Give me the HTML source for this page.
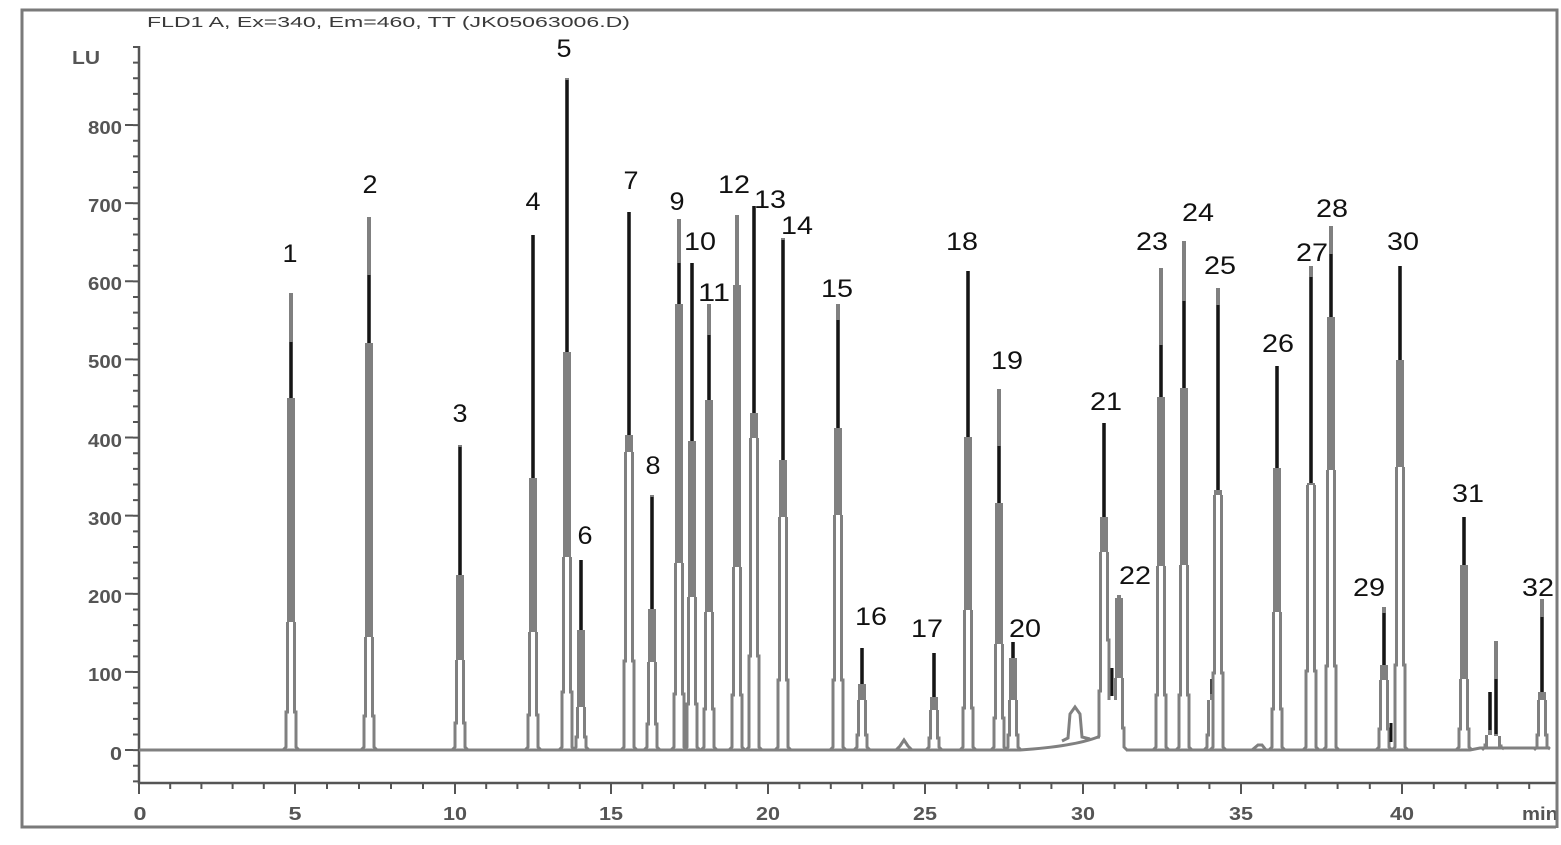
<!DOCTYPE html>
<html><head><meta charset="utf-8"><style>
html,body{margin:0;padding:0;background:#fff;}
svg{display:block;}
.g{fill:#808080}
.k{fill:#151515}
.s{fill:none;stroke:#808080;stroke-width:3}
.ax{stroke:#555;stroke-width:2.5;fill:none}
.tk{stroke:#555;stroke-width:2;fill:none}
.lb{font-family:"Liberation Sans",sans-serif;font-size:25px;fill:#111;text-anchor:middle}
.al{font-family:"Liberation Sans",sans-serif;font-size:18px;fill:#555;font-weight:bold}
</style></head><body>
<svg width="1561" height="845" viewBox="0 0 1561 845" xmlns="http://www.w3.org/2000/svg">
<rect x="0" y="0" width="1561" height="845" fill="#fff"/>
<!-- frame -->
<rect x="22" y="10" width="1535" height="817" fill="none" stroke="#7a7a7a" stroke-width="3"/>
<!-- title -->
<text x="147" y="27" font-family="Liberation Sans, sans-serif" font-size="15" fill="#3a3a3a" textLength="483" lengthAdjust="spacingAndGlyphs">FLD1 A, Ex=340, Em=460, TT (JK05063006.D)</text>
<text x="72" y="64" class="al" textLength="28" lengthAdjust="spacingAndGlyphs">LU</text>

<!-- axes -->
<line x1="139" y1="46" x2="139" y2="784" class="ax"/>
<line x1="138" y1="783" x2="1557" y2="783" class="ax"/>
<!-- y minor ticks -->
<line x1="136" y1="46" x2="136" y2="784" stroke="#555" stroke-width="6" stroke-dasharray="2 13.625"/>
<!-- y major ticks -->
<line x1="129" y1="124" x2="129" y2="752" stroke="#555" stroke-width="8" stroke-dasharray="2 76.125"/>
<!-- x ticks -->
<path class="tk" d="M170.2 783v6M201.4 783v6M232.6 783v6M263.8 783v6M327 783v6M359 783v6M391 783v6M423 783v6M486.2 783v6M517.4 783v6M548.6 783v6M579.8 783v6M642.4 783v6M673.8 783v6M705.2 783v6M736.6 783v6M799.4 783v6M830.8 783v6M862.2 783v6M893.6 783v6M956.6 783v6M988.2 783v6M1019.8 783v6M1051.4 783v6M1114.6 783v6M1146.2 783v6M1177.8 783v6M1209.4 783v6M1273.2 783v6M1305.4 783v6M1337.6 783v6M1369.8 783v6M1433.8 783v6M1465.6 783v6M1497.4 783v6M1529.2 783v6"/>
<path class="tk" d="M139 783v11M295 783v11M455 783v11M611 783v11M768 783v11M925 783v11M1083 783v11M1241 783v11M1402 783v11"/>

<!-- y labels -->
<g class="al" text-anchor="end">
<text x="122" y="760" textLength="12" lengthAdjust="spacingAndGlyphs">0</text>
<text x="122" y="681" textLength="34" lengthAdjust="spacingAndGlyphs">100</text>
<text x="122" y="603" textLength="34" lengthAdjust="spacingAndGlyphs">200</text>
<text x="122" y="525" textLength="34" lengthAdjust="spacingAndGlyphs">300</text>
<text x="122" y="447" textLength="34" lengthAdjust="spacingAndGlyphs">400</text>
<text x="122" y="368" textLength="34" lengthAdjust="spacingAndGlyphs">500</text>
<text x="122" y="290" textLength="34" lengthAdjust="spacingAndGlyphs">600</text>
<text x="122" y="212" textLength="34" lengthAdjust="spacingAndGlyphs">700</text>
<text x="122" y="134" textLength="34" lengthAdjust="spacingAndGlyphs">800</text>
</g>
<!-- x labels -->
<g class="al" text-anchor="middle">
<text x="140" y="820" textLength="13" lengthAdjust="spacingAndGlyphs">0</text>
<text x="295" y="820" textLength="13" lengthAdjust="spacingAndGlyphs">5</text>
<text x="455" y="820" textLength="24" lengthAdjust="spacingAndGlyphs">10</text>
<text x="611" y="820" textLength="24" lengthAdjust="spacingAndGlyphs">15</text>
<text x="768" y="820" textLength="24" lengthAdjust="spacingAndGlyphs">20</text>
<text x="925" y="820" textLength="24" lengthAdjust="spacingAndGlyphs">25</text>
<text x="1083" y="820" textLength="24" lengthAdjust="spacingAndGlyphs">30</text>
<text x="1241" y="820" textLength="24" lengthAdjust="spacingAndGlyphs">35</text>
<text x="1402" y="820" textLength="24" lengthAdjust="spacingAndGlyphs">40</text>
</g>
<text x="1522" y="820" class="al" textLength="36" lengthAdjust="spacingAndGlyphs">min</text>
<rect x="1556" y="790" width="5" height="40" fill="#fff"/>
<line x1="1557" y1="10" x2="1557" y2="828" stroke="#7a7a7a" stroke-width="3"/>

<!-- baseline -->
<path class="s" d="M139 750H1020C1050 748 1080 744 1098 737L1100 737M1126 750H1470L1480 748H1550"/>
<!-- small bumps -->
<path class="s" d="M896 750L900 746L904 740L908 746L912 750"/>
<path class="s" d="M1062 741L1068 738L1070 714L1075 707L1080 714L1082 737L1090 739"/>
<path class="s" d="M1252 750L1258 745L1262 745L1266 750"/>

<!-- peaks -->
<g transform="translate(291 0)"><path class="g" d="M-2 293H2V622H-2ZM-4 398H4V622H-4Z"/><path class="k" d="M-1.5 342H1.5V398H-1.5Z"/><path class="s" d="M-3.5 622V712H-5V747L-8 750M3.5 622V712H5V747L8 750"/></g>
<g transform="translate(369 0)"><path class="g" d="M-2 217H2V637H-2ZM-4 343H4V637H-4Z"/><path class="k" d="M-1.5 275H1.5V343H-1.5Z"/><path class="s" d="M-3.5 637V716H-5V747L-8 750M3.5 637V716H5V747L8 750"/></g>
<g transform="translate(460 0)"><path class="g" d="M-2 445H2V660H-2ZM-4 575H4V660H-4Z"/><path class="k" d="M-1.5 447H1.5V575H-1.5Z"/><path class="s" d="M-3.5 660V723H-5V747L-8 750M3.5 660V723H5V747L8 750"/></g>
<g transform="translate(533 0)"><path class="g" d="M-2 235H2V632H-2ZM-4 478H4V632H-4Z"/><path class="k" d="M-1.5 235H1.5V478H-1.5Z"/><path class="s" d="M-3.5 632V715H-5V747L-8 750M3.5 632V715H5V747L8 750"/></g>
<g transform="translate(567 0)"><path class="g" d="M-2 78H2V557H-2ZM-4 352H4V557H-4Z"/><path class="k" d="M-1.5 80H1.5V352H-1.5Z"/><path class="s" d="M-3.5 557V692H-5V747L-8 750M3.5 557V692H5V747L8 750"/></g>
<g transform="translate(581 0)"><path class="g" d="M-2 560H2V707H-2ZM-4 630H4V707H-4Z"/><path class="k" d="M-1.5 560H1.5V630H-1.5Z"/><path class="s" d="M-3.5 707V737H-5V747L-8 750M3.5 707V737H5V747L8 750"/></g>
<g transform="translate(629 0)"><path class="g" d="M-2 212H2V452H-2ZM-4 435H4V452H-4Z"/><path class="k" d="M-1.5 212H1.5V435H-1.5Z"/><path class="s" d="M-3.5 452V661H-5V747L-8 750M3.5 452V661H5V747L8 750"/></g>
<g transform="translate(652 0)"><path class="g" d="M-2 495H2V662H-2ZM-4 609H4V662H-4Z"/><path class="k" d="M-1.5 497H1.5V609H-1.5Z"/><path class="s" d="M-3.5 662V724H-5V747L-8 750M3.5 662V724H5V747L8 750"/></g>
<g transform="translate(679 0)"><path class="g" d="M-2 219H2V563H-2ZM-4 304H4V563H-4Z"/><path class="k" d="M-1.5 263H1.5V304H-1.5Z"/><path class="s" d="M-3.5 563V694H-5V747L-8 750M3.5 563V694H5V747L8 750"/></g>
<g transform="translate(692 0)"><path class="g" d="M-2 263H2V597H-2ZM-4 441H4V597H-4Z"/><path class="k" d="M-1.5 263H1.5V441H-1.5Z"/><path class="s" d="M-3.5 597V704H-5V747L-8 750M3.5 597V704H5V747L8 750"/></g>
<g transform="translate(709 0)"><path class="g" d="M-2 304H2V612H-2ZM-4 400H4V612H-4Z"/><path class="k" d="M-1.5 335H1.5V400H-1.5Z"/><path class="s" d="M-3.5 612V709H-5V747L-8 750M3.5 612V709H5V747L8 750"/></g>
<g transform="translate(737 0)"><path class="g" d="M-2 215H2V567H-2ZM-4 285H4V567H-4Z"/><path class="s" d="M-3.5 567V695H-5V747L-8 750M3.5 567V695H5V747L8 750"/></g>
<g transform="translate(754 0)"><path class="g" d="M-2 206H2V438H-2ZM-4 413H4V438H-4Z"/><path class="k" d="M-1.5 206H1.5V413H-1.5Z"/><path class="s" d="M-3.5 438V656H-5V747L-8 750M3.5 438V656H5V747L8 750"/></g>
<g transform="translate(783 0)"><path class="g" d="M-2 238H2V517H-2ZM-4 460H4V517H-4Z"/><path class="k" d="M-1.5 240H1.5V460H-1.5Z"/><path class="s" d="M-3.5 517V680H-5V747L-8 750M3.5 517V680H5V747L8 750"/></g>
<g transform="translate(838 0)"><path class="g" d="M-2 304H2V515H-2ZM-4 428H4V515H-4Z"/><path class="k" d="M-1.5 320H1.5V428H-1.5Z"/><path class="s" d="M-3.5 515V680H-5V747L-8 750M3.5 515V680H5V747L8 750"/></g>
<g transform="translate(862 0)"><path class="g" d="M-2 648H2V700H-2ZM-4 684H4V700H-4Z"/><path class="k" d="M-1.5 648H1.5V684H-1.5Z"/><path class="s" d="M-3.5 700V735H-5V747L-8 750M3.5 700V735H5V747L8 750"/></g>
<g transform="translate(934 0)"><path class="g" d="M-2 653H2V710H-2ZM-4 697H4V710H-4Z"/><path class="k" d="M-1.5 653H1.5V697H-1.5Z"/><path class="s" d="M-3.5 710V738H-5V747L-8 750M3.5 710V738H5V747L8 750"/></g>
<g transform="translate(968 0)"><path class="g" d="M-2 271H2V610H-2ZM-4 437H4V610H-4Z"/><path class="k" d="M-1.5 271H1.5V437H-1.5Z"/><path class="s" d="M-3.5 610V708H-5V747L-8 750M3.5 610V708H5V747L8 750"/></g>
<g transform="translate(999 0)"><path class="g" d="M-2 389H2V644H-2ZM-4 503H4V644H-4Z"/><path class="k" d="M-1.5 446H1.5V503H-1.5Z"/><path class="s" d="M-3.5 644V718H-5V747L-8 750M3.5 644V718H5V747L8 750"/></g>
<g transform="translate(1013 0)"><path class="g" d="M-2 642H2V700H-2ZM-4 658H4V700H-4Z"/><path class="k" d="M-1.5 642H1.5V658H-1.5Z"/><path class="s" d="M-3.5 700V735H-5V747L-8 750M3.5 700V735H5V747L8 750"/></g>
<g transform="translate(1104 0)"><path class="g" d="M-2 423H2V552H-2ZM-4 517H4V552H-4Z"/><path class="k" d="M-1.5 423H1.5V517H-1.5Z"/><path class="s" d="M-3.5 552V691H-5V736L-7 738M3.5 552V640H5V700"/></g>
<path class="k" d="M1110.5 668H1113.5V696H1110.5Z"/>
<g transform="translate(1119 0)"><path class="g" d="M-2 595H2V678H-2ZM-4 598H4V678H-4Z"/><path class="s" d="M-3.5 678V700M3.5 678V728H5V747L8 750"/></g>
<g transform="translate(1161 0)"><path class="g" d="M-2 268H2V566H-2ZM-4 397H4V566H-4Z"/><path class="k" d="M-1.5 345H1.5V397H-1.5Z"/><path class="s" d="M-3.5 566V695H-5V747L-8 750M3.5 566V695H5V747L8 750"/></g>
<g transform="translate(1184 0)"><path class="g" d="M-2 241H2V565H-2ZM-4 388H4V565H-4Z"/><path class="k" d="M-1.5 301H1.5V388H-1.5Z"/><path class="s" d="M-3.5 565V695H-5V747L-8 750M3.5 565V695H5V747L8 750"/></g>
<g transform="translate(1212 0)"><path class="g" d="M-2 679H2V700H-2Z"/><path class="k" d="M-1.5 679H1.5V694H-1.5Z"/><path class="s" d="M-3.5 700V735H-5V747L-8 750"/></g>
<g transform="translate(1218 0)"><path class="g" d="M-2 288H2V495H-2ZM-4 490H4V495H-4Z"/><path class="k" d="M-1.5 305H1.5V490H-1.5Z"/><path class="s" d="M-3.5 495V673H-5V747L-8 750M3.5 495V673H5V747L8 750"/></g>
<g transform="translate(1277 0)"><path class="g" d="M-2 366H2V612H-2ZM-4 468H4V612H-4Z"/><path class="k" d="M-1.5 366H1.5V468H-1.5Z"/><path class="s" d="M-3.5 612V709H-5V747L-8 750M3.5 612V709H5V747L8 750"/></g>
<g transform="translate(1311 0)"><path class="g" d="M-2 266H2V485H-2ZM-4 483H4V485H-4Z"/><path class="k" d="M-1.5 277H1.5V483H-1.5Z"/><path class="s" d="M-3.5 485V671H-5V747L-8 750M3.5 485V671H5V747L8 750"/></g>
<g transform="translate(1331 0)"><path class="g" d="M-2 226H2V470H-2ZM-4 317H4V470H-4Z"/><path class="k" d="M-1.5 254H1.5V317H-1.5Z"/><path class="s" d="M-3.5 470V666H-5V747L-8 750M3.5 470V666H5V747L8 750"/></g>
<g transform="translate(1384 0)"><path class="g" d="M-2 607H2V680H-2ZM-4 665H4V680H-4Z"/><path class="k" d="M-1.5 613H1.5V665H-1.5Z"/><path class="s" d="M-3.5 680V729H-5V747L-8 750M3.5 680V729H5V747L8 750"/></g>
<path class="k" d="M1389.5 723H1392.5V742H1389.5Z"/>
<g transform="translate(1400 0)"><path class="g" d="M-2 266H2V467H-2ZM-4 360H4V467H-4Z"/><path class="k" d="M-1.5 266H1.5V360H-1.5Z"/><path class="s" d="M-3.5 467V665H-5V747L-8 750M3.5 467V665H5V747L8 750"/></g>
<g transform="translate(1464 0)"><path class="g" d="M-2 517H2V679H-2ZM-4 565H4V679H-4Z"/><path class="k" d="M-1.5 517H1.5V565H-1.5Z"/><path class="s" d="M-3.5 679V729H-5V747L-8 750M3.5 679V729H5V747L8 750"/></g>
<g transform="translate(1490 0)"><path class="g" d="M-2 692H2V735H-2Z"/><path class="k" d="M-1.5 692H1.5V730H-1.5Z"/><path class="s" d="M-3.5 735V745H-5V747L-8 750"/></g>
<g transform="translate(1496 0)"><path class="g" d="M-2 641H2V736H-2Z"/><path class="k" d="M-1.5 679H1.5V734H-1.5Z"/><path class="s" d="M3.5 736V746H5V747L8 749"/></g>
<g transform="translate(1542 0)"><path class="g" d="M-2 599H2V700H-2ZM-4 692H4V700H-4Z"/><path class="k" d="M-1.5 617H1.5V692H-1.5Z"/><path class="s" d="M-3.5 700V735H-5V747L-8 750M3.5 700V735H5V747L8 749"/></g>

<!-- peak labels -->
<g class="lb">
<text x="290" y="262" textLength="15" lengthAdjust="spacingAndGlyphs">1</text>
<text x="370" y="193" textLength="15" lengthAdjust="spacingAndGlyphs">2</text>
<text x="460" y="422" textLength="15" lengthAdjust="spacingAndGlyphs">3</text>
<text x="533" y="210" textLength="15" lengthAdjust="spacingAndGlyphs">4</text>
<text x="564" y="57" textLength="15" lengthAdjust="spacingAndGlyphs">5</text>
<text x="585" y="544" textLength="15" lengthAdjust="spacingAndGlyphs">6</text>
<text x="631" y="189" textLength="15" lengthAdjust="spacingAndGlyphs">7</text>
<text x="653" y="474" textLength="15" lengthAdjust="spacingAndGlyphs">8</text>
<text x="677" y="210" textLength="15" lengthAdjust="spacingAndGlyphs">9</text>
<text x="700" y="250" textLength="32" lengthAdjust="spacingAndGlyphs">10</text>
<text x="714" y="301" textLength="32" lengthAdjust="spacingAndGlyphs">11</text>
<text x="734" y="193" textLength="32" lengthAdjust="spacingAndGlyphs">12</text>
<text x="770" y="208" textLength="32" lengthAdjust="spacingAndGlyphs">13</text>
<text x="797" y="234" textLength="32" lengthAdjust="spacingAndGlyphs">14</text>
<text x="837" y="297" textLength="32" lengthAdjust="spacingAndGlyphs">15</text>
<text x="871" y="625" textLength="32" lengthAdjust="spacingAndGlyphs">16</text>
<text x="927" y="637" textLength="32" lengthAdjust="spacingAndGlyphs">17</text>
<text x="962" y="250" textLength="32" lengthAdjust="spacingAndGlyphs">18</text>
<text x="1007" y="369" textLength="32" lengthAdjust="spacingAndGlyphs">19</text>
<text x="1025" y="637" textLength="32" lengthAdjust="spacingAndGlyphs">20</text>
<text x="1106" y="410" textLength="32" lengthAdjust="spacingAndGlyphs">21</text>
<text x="1135" y="584" textLength="32" lengthAdjust="spacingAndGlyphs">22</text>
<text x="1152" y="250" textLength="32" lengthAdjust="spacingAndGlyphs">23</text>
<text x="1198" y="221" textLength="32" lengthAdjust="spacingAndGlyphs">24</text>
<text x="1220" y="274" textLength="32" lengthAdjust="spacingAndGlyphs">25</text>
<text x="1278" y="352" textLength="32" lengthAdjust="spacingAndGlyphs">26</text>
<text x="1312" y="261" textLength="32" lengthAdjust="spacingAndGlyphs">27</text>
<text x="1332" y="217" textLength="32" lengthAdjust="spacingAndGlyphs">28</text>
<text x="1369" y="596" textLength="32" lengthAdjust="spacingAndGlyphs">29</text>
<text x="1403" y="250" textLength="32" lengthAdjust="spacingAndGlyphs">30</text>
<text x="1468" y="502" textLength="32" lengthAdjust="spacingAndGlyphs">31</text>
<text x="1538" y="596" textLength="32" lengthAdjust="spacingAndGlyphs">32</text>
</g>
</svg>
</body></html>
